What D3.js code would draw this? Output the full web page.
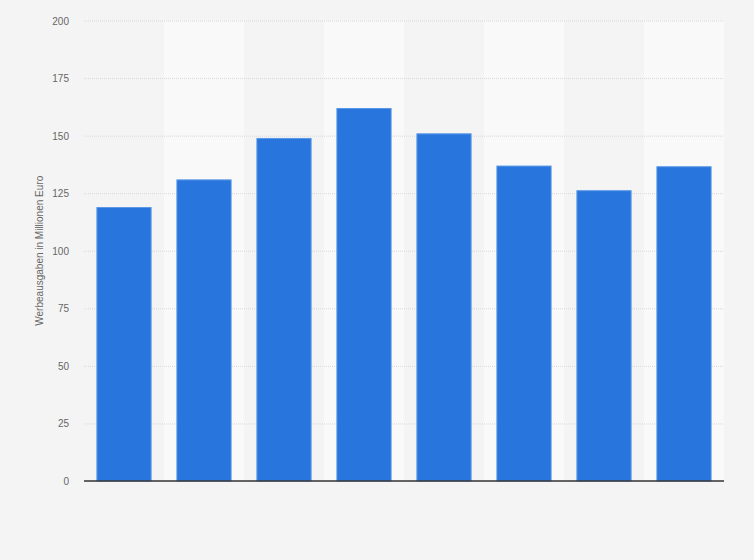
<!DOCTYPE html>
<html>
<head>
<meta charset="utf-8">
<script src="https://cdn.jsdelivr.net/npm/d3@7"></script>
<style>
  html, body { margin: 0; padding: 0; background: #f4f4f4; }
  svg { display: block; }
</style>
</head>
<body>
<svg id="chart" width="754" height="560"></svg>
<script>
const categories = ["1", "2", "3", "4", "5", "6", "7", "8"];
const values = [119, 131, 149, 162, 151, 137, 126.3, 136.7];
const yTicks = [0, 25, 50, 75, 100, 125, 150, 175, 200];
const yLabel = "Werbeausgaben in Millionen Euro";

const W = 754, H = 560;
const margin = { left: 84, right: 30, top: 20.5, bottom: 79 };
const svg = d3.select("#chart");

svg.append("rect").attr("width", W).attr("height", H).attr("fill", "#f4f4f4");

const x = d3.scaleBand().domain(categories)
  .range([margin.left, W - margin.right]).paddingInner(0.31).paddingOuter(0.155);
const xb = d3.scaleBand().domain(categories)
  .range([margin.left, W - margin.right]).padding(0);
const y = d3.scaleLinear().domain([0, 200]).range([H - margin.bottom, margin.top]);

// alternating column backgrounds
svg.append("g").selectAll("rect").data(categories).join("rect")
  .attr("x", d => xb(d)).attr("width", xb.bandwidth())
  .attr("y", y(200)).attr("height", y(0) - y(200))
  .attr("fill", (d, i) => i % 2 === 1 ? "#f9f9f9" : "#f4f4f4");

// gridlines
svg.append("g").selectAll("line").data(yTicks.filter(t => t > 0)).join("line")
  .attr("x1", margin.left).attr("x2", W - margin.right)
  .attr("y1", d => y(d) + 0.5).attr("y2", d => y(d) + 0.5)
  .attr("stroke", "#d8d8d8").attr("stroke-width", 1)
  .attr("stroke-dasharray", "1,1");

// y axis tick labels
const yAxis = d3.axisLeft(y).tickValues(yTicks).tickSize(0).tickPadding(0);
const gy = svg.append("g").attr("transform", `translate(69,0)`).call(yAxis);
gy.select(".domain").remove();
gy.selectAll("text")
  .attr("fill", "#666").attr("font-family", "Liberation Sans, Arial, sans-serif")
  .attr("font-size", 10).attr("dy", "0.35em");

// bars
svg.append("g").selectAll("rect").data(values).join("rect")
  .attr("x", (d, i) => x(categories[i]) + 0.5)
  .attr("width", x.bandwidth() - 1)
  .attr("y", d => y(d) + 0.5)
  .attr("height", d => y(0) - y(d) - 0.5)
  .attr("fill", "#2876dd")
  .attr("stroke", "#5b98e8").attr("stroke-width", 1);

// baseline
svg.append("line")
  .attr("x1", margin.left).attr("x2", W - margin.right)
  .attr("y1", y(0)).attr("y2", y(0))
  .attr("stroke", "#333").attr("stroke-width", 1.5);

// y label
svg.append("text")
  .attr("transform", `translate(43,${(y(0) + y(200)) / 2}) rotate(-90)`)
  .attr("text-anchor", "middle")
  .attr("fill", "#666").attr("font-family", "Liberation Sans, Arial, sans-serif")
  .attr("font-size", 10)
  .text(yLabel);
</script>
</body>
</html>
